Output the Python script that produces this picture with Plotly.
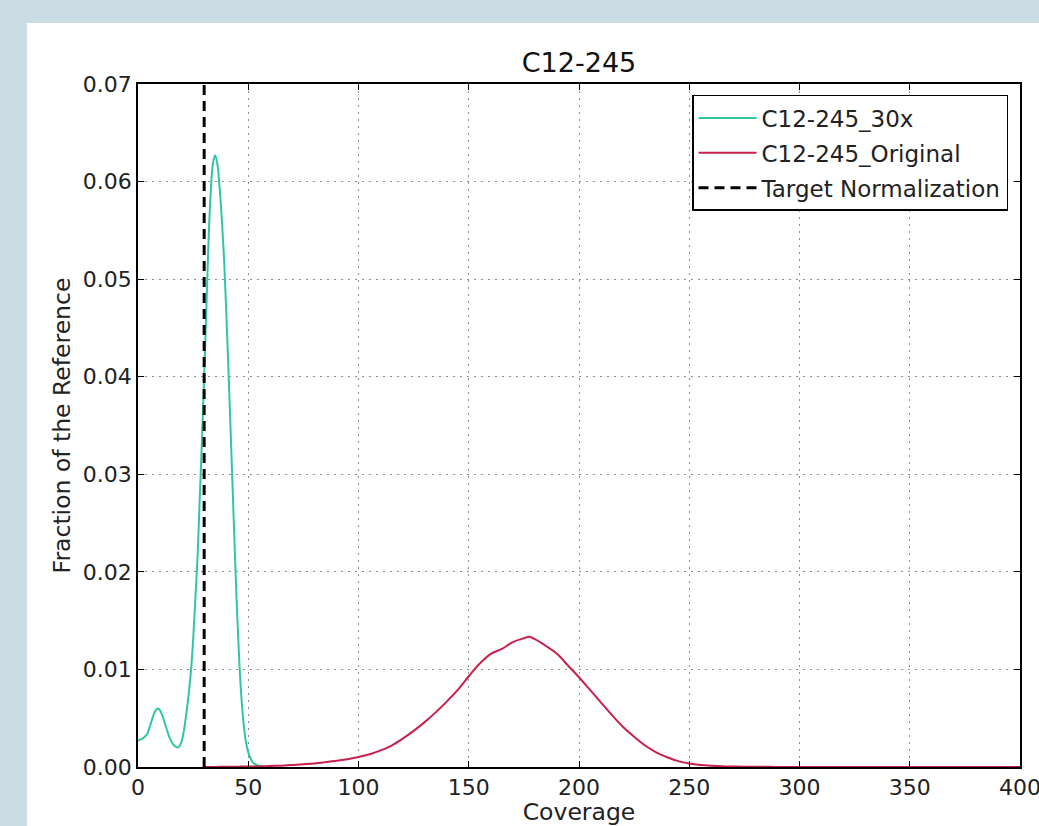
import plotly.graph_objects as go

# ---- data ----
cov_30x = [0, 1, 2, 3, 4, 5, 6, 7, 8, 9, 10, 11, 12, 13, 14, 15, 16, 17, 18, 19,
           20, 21, 22, 23, 24, 25, 26, 27, 28, 29, 30, 31, 32, 33, 34, 35, 36, 37,
           38, 39, 40, 41, 42, 43, 44, 45, 46, 47, 48, 49, 50, 51, 52, 53, 54, 55,
           56, 57, 58, 60]
frac_30x = [0.0027, 0.0028, 0.0029, 0.0031, 0.0033, 0.0039, 0.0046, 0.0053, 0.0058,
            0.0060, 0.0058, 0.0053, 0.0046, 0.0039, 0.0032, 0.0027, 0.0023, 0.0021,
            0.0020, 0.0022, 0.0028, 0.0040, 0.0056, 0.0075, 0.0098, 0.0130, 0.0172,
            0.0215, 0.0275, 0.0335, 0.0400, 0.0470, 0.0540, 0.0590, 0.0619, 0.0627,
            0.0618, 0.0594, 0.0562, 0.0522, 0.0468, 0.0408, 0.0345, 0.0280, 0.0215,
            0.0155, 0.0105, 0.0068, 0.0042, 0.0025, 0.0015, 0.0009, 0.0005, 0.0003,
            0.0002, 0.0001, 0.00005, 0.00002, 0.0, 0.0]

cov_orig = [30, 35, 40, 45, 50, 55, 60, 65, 70, 75, 80, 85, 90, 95, 100, 105, 110,
            115, 120, 125, 130, 135, 140, 145, 150, 155, 160, 165, 170, 175, 177.5,
            180, 185, 190, 195, 200, 205, 210, 215, 220, 225, 230, 235, 240, 245,
            250, 255, 260, 265, 270, 280, 290, 300, 350, 400]
frac_orig = [0.0, 0.00001, 0.00002, 0.00003, 0.00005, 0.00007, 0.0001, 0.00014,
             0.0002, 0.00028, 0.00037, 0.0005, 0.00064, 0.0008, 0.00103, 0.0013,
             0.0017, 0.0022, 0.0029, 0.0037, 0.0046, 0.0056, 0.0067, 0.0079, 0.0093,
             0.0106, 0.0116, 0.0121, 0.0128, 0.0132, 0.01335, 0.0131, 0.0124, 0.0116,
             0.0104, 0.0092, 0.0079, 0.0066, 0.0053, 0.0041, 0.0031, 0.0022, 0.0015,
             0.0010, 0.0006, 0.00035, 0.0002, 0.00012, 0.00007, 0.00004, 0.00002,
             0.00001, 0.0, 0.0, 0.0]

target_x = [30, 30]
target_y = [0.0, 0.07]

x_ticks = [0, 50, 100, 150, 200, 250, 300, 350, 400]
y_ticks = [0.00, 0.01, 0.02, 0.03, 0.04, 0.05, 0.06, 0.07]
y_tick_text = ["0.00", "0.01", "0.02", "0.03", "0.04", "0.05", "0.06", "0.07"]

FONT = "DejaVu Sans"

fig = go.Figure()
fig.add_trace(go.Scatter(x=cov_30x, y=frac_30x, mode="lines", name="C12-245_30x",
                         legendgroup="a",
                         line=dict(color="#30c6a4", width=2, shape="spline")))
fig.add_trace(go.Scatter(x=cov_orig, y=frac_orig, mode="lines", name="C12-245_Original",
                         legendgroup="b",
                         line=dict(color="#c8204c", width=2, shape="spline")))
fig.add_trace(go.Scatter(x=target_x, y=target_y, mode="lines", name="Target Normalization",
                         legendgroup="c",
                         line=dict(color="black", width=3, dash="10px,6px")))

# white panel on the light-blue frame
fig.add_shape(type="rect", xref="paper", yref="paper", x0=-0.126, x1=1.2, y0=-0.2, y1=1.0893,
              fillcolor="white", line=dict(width=0), layer="below")

axis_common = dict(showline=True, linecolor="black", linewidth=1.5, mirror="ticks",
                   ticks="inside", ticklen=6, tickcolor="black", tickwidth=1,
                   showgrid=True, gridcolor="#8f8f8f", griddash="2px,5px", gridwidth=1,
                   zeroline=False, automargin=False,
                   tickfont=dict(family=FONT, size=22, color="#222"))

fig.update_xaxes(range=[0, 400], tickvals=x_ticks, ticklabeloverflow="allow",
                 title=dict(text="Coverage", standoff=2,
                            font=dict(family=FONT, size=23.5, color="#222")), **axis_common)
fig.update_yaxes(range=[0, 0.07], tickvals=y_ticks, ticktext=y_tick_text,
                 title=dict(text="Fraction of the Reference", standoff=6,
                            font=dict(family=FONT, size=23.5, color="#222")), **axis_common)

fig.update_layout(
    width=1039, height=826,
    margin=dict(l=138, r=19, t=84, b=59),
    paper_bgcolor="#cbdbe3", plot_bgcolor="white",
    title=dict(text="C12-245", x=0.5, xref="paper", y=0.924, yanchor="middle",
               font=dict(family=FONT, size=27, color="#111")),
    legend=dict(x=0.9864, y=0.984, xanchor="right", yanchor="top",
                bgcolor="white", bordercolor="black", borderwidth=1.5,
                font=dict(family=FONT, size=23, color="#222"), tracegroupgap=2,
                itemwidth=58),
    showlegend=True,
)

fig.write_html("out.html", config={"displayModeBar": False},
               post_script="document.body.style.margin='0';")
